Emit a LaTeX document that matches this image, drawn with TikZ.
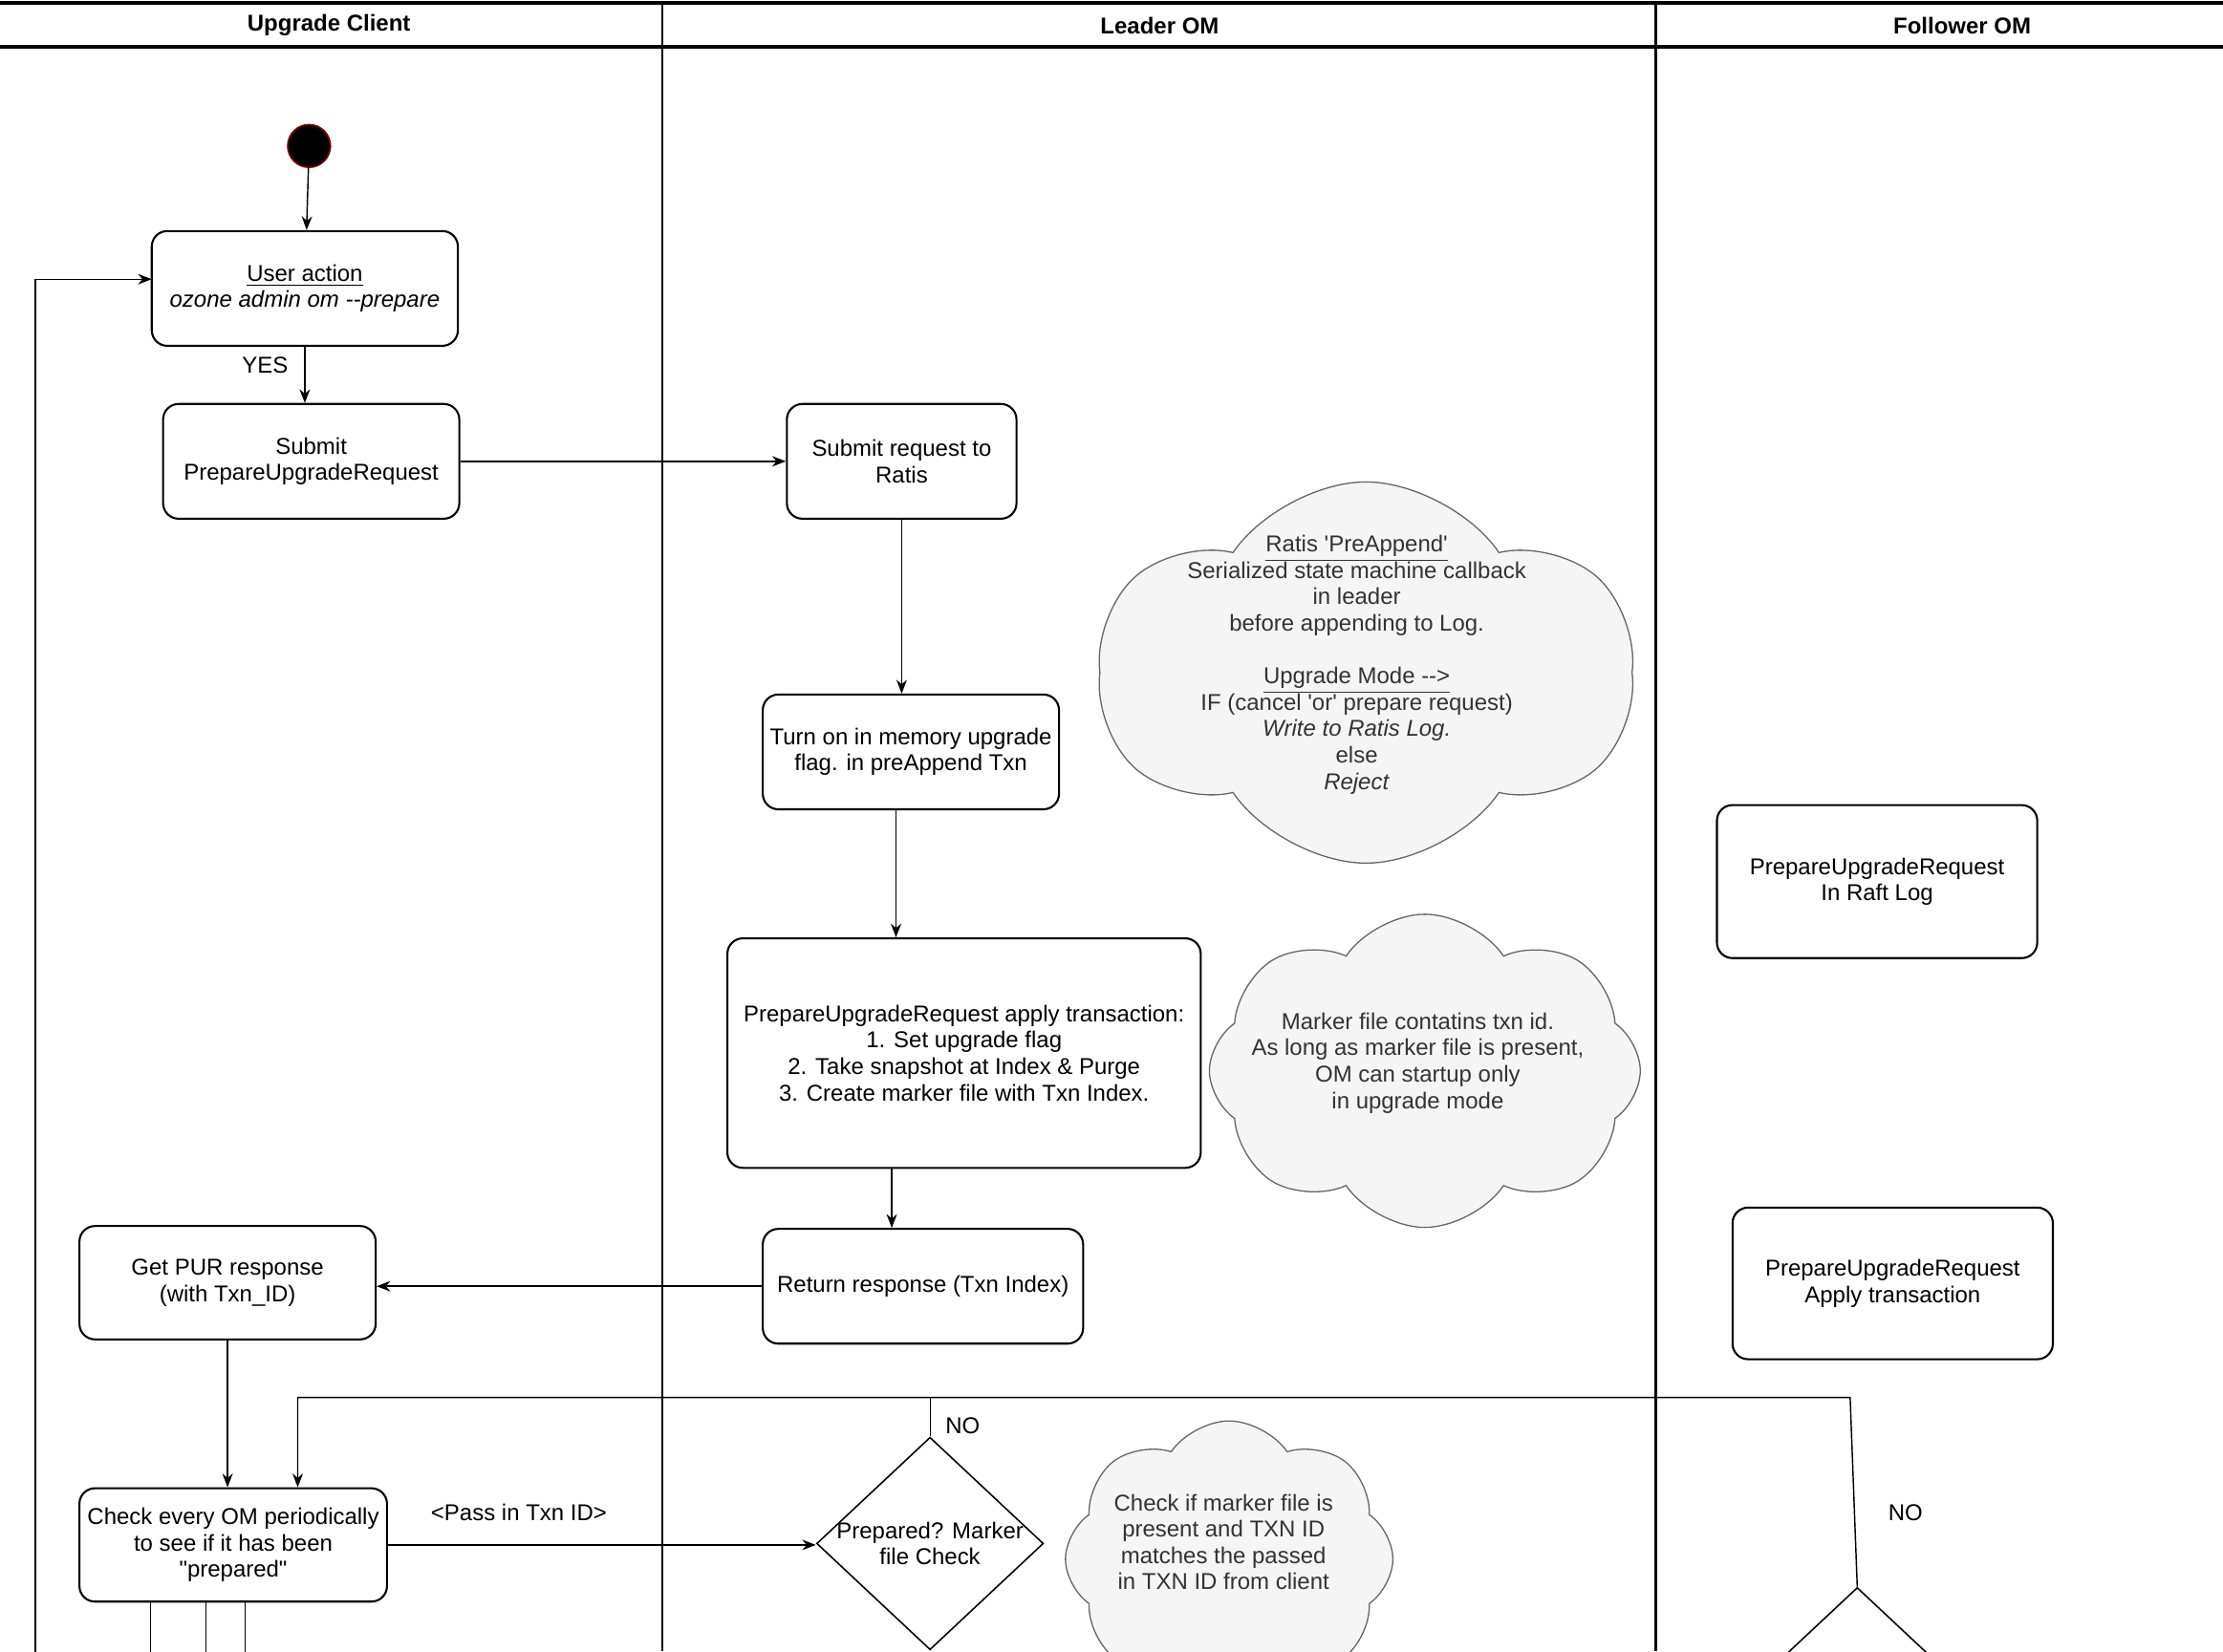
\documentclass[tikz,border=0pt]{standalone}
\usepackage{fontspec}
\setmainfont{Liberation Sans}
\usepackage{tikz}
\usepackage{xcolor}
\usetikzlibrary{calc,shapes.geometric,shapes.symbols,arrows.meta,positioning}

\definecolor{notefill}{HTML}{F5F5F5}
\definecolor{noteline}{HTML}{666666}
\definecolor{notetext}{HTML}{333333}

\tikzset{
  action/.style={ % rounded activity box
    draw, rectangle, rounded corners=0.22cm, line width=0.8pt,
    align=center, inner sep=2pt, text=black
  },
  decision/.style={ % empty decision diamond, text is put on top
    draw, diamond, line width=0.6pt, inner sep=0pt,
    minimum width=3.2cm, minimum height=3cm
  },
  note/.style={ % grey cloud behind a comment
    draw=noteline, fill=notefill, cloud, cloud puffs=8,
    cloud puff arc=112, cloud ignores aspect,
    line width=0.5pt, inner sep=0pt
  },
  notetxt/.style={align=center, text=notetext},
  startnode/.style={ % initial state
    circle, fill=black, draw=red!45!black, line width=0.7pt,
    minimum size=0.6cm, inner sep=0pt
  },
  flow/.style={-{Stealth[length=5.5pt,width=4.2pt]}, line width=0.55pt},
  lane/.style={line width=0.9pt},
  headline/.style={line width=1.2pt},
  lanehead/.style={font=\fontsize{9.2}{10.6}\selectfont\bfseries}
}

\begin{document}
\begin{tikzpicture}[x=0.02cm, y=-0.02cm, font=\fontsize{9.2}{10.6}\selectfont]
  \useasboundingbox (0,0) rectangle (1568,1165);

  % swimlanes
  \draw[headline] (0,2) -- (1568,2);
  \draw[headline] (0,33) -- (1568,33);
  \draw[lane] (467,2) -- (467,1165);
  \draw[lane] (1168,2) -- (1168,1165);
  \node[lanehead] (client_head) at (232,18) {Upgrade Client};
  \node[lanehead] (leader_head) at (818,18) {Leader OM};
  \node[lanehead] (follower_head) at (1384,18) {Follower OM};

  % upgrade client
  \node[startnode] (start) at (218,103) {};
  \node[action, minimum width=4.32cm, minimum height=1.62cm] (user) at (215,203.5)
    {\underline{User action}\\\textit{ozone admin om -{}-prepare}};
  \node[action, minimum width=4.18cm, minimum height=1.62cm] (submit) at (219.5,325.5)
    {Submit\\PrepareUpgradeRequest};
  \node[action, minimum width=4.18cm, minimum height=1.6cm] (getpur) at (160.5,905)
    {Get PUR response\\(with Txn\_ID)};
  \node[action, minimum width=4.34cm, minimum height=1.6cm] (check) at (164.5,1090)
    {Check every OM periodically\\to see if it has been\\\textquotedbl prepared\textquotedbl};

  % leader OM
  \node[action, minimum width=3.24cm, minimum height=1.62cm] (ratis) at (636,325.5)
    {Submit request to\\Ratis};
  \node[action, minimum width=4.18cm, minimum height=1.62cm] (turnon) at (642.5,530.5)
    {Turn on in memory upgrade\\flag. in preAppend Txn};
  \node[action, minimum width=6.68cm, minimum height=3.24cm] (apply) at (680,743)
    {PrepareUpgradeRequest apply transaction:\\1. Set upgrade flag\\2. Take snapshot at Index \& Purge\\3. Create marker file with Txn Index.};
  \node[action, minimum width=4.52cm, minimum height=1.62cm] (ret) at (651,907.5)
    {Return response (Txn Index)};
  \node[decision] (prep) at (656,1089) {};
  \node[align=center] (prep_text) at (prep.center) {Prepared? Marker\\file Check};

  % comments
  \node[note, cloud puffs=6, minimum width=7.54cm, minimum height=5.38cm] (preappend) at (963.5,474.5) {};
  \node[notetxt] (preappend_text) at (957,469)
    {\underline{Ratis \textquotesingle PreAppend\textquotesingle}\\Serialized state machine callback\\in leader\\before appending to Log.\\[10.6pt]
     \underline{Upgrade Mode -{}->}\\IF (cancel \textquotesingle or\textquotesingle{} prepare request)\\\textit{Write to Ratis Log.}\\else\\\textit{Reject}};
  \node[note, minimum width=6.08cm, minimum height=4.42cm] (marker) at (1005,755.5) {};
  \node[notetxt] (marker_text) at (1000,750)
    {Marker file contatins txn id.\\As long as marker file is present,\\OM can startup only\\in upgrade mode};
  \node[note, minimum width=4.62cm, minimum height=3.9cm] (markercheck) at (867,1100) {};
  \node[notetxt] (markercheck_text) at (863,1088)
    {Check if marker file is\\present and TXN ID\\matches the passed\\in TXN ID from client};

  % follower OM
  \node[action, minimum width=4.52cm, minimum height=2.16cm] (raft) at (1324,622)
    {PrepareUpgradeRequest\\In Raft Log};
  \node[action, minimum width=4.52cm, minimum height=2.14cm] (fapply) at (1335,905.5)
    {PrepareUpgradeRequest\\Apply transaction};
  \node[decision] (fprep) at (1310,1195) {};

  % connectors
  \draw[flow] (start) -- (user);
  \draw[flow] (user) -- (submit.north -| user.south);
  \node (yes) at (187,258) {YES};
  \draw[flow] (submit) -- (submit -| ratis.west);
  \draw[flow] (ratis.south) -- (ratis.south |- turnon.north);
  \draw[flow] (turnon.south -| 632,0) -- (apply.north -| 632,0);
  \draw[flow] (apply.south -| 629,0) -- (ret.north -| 629,0);
  \draw[flow] (ret.west) -- (ret.west -| getpur.east);
  \draw[flow] (getpur.south) -- (getpur.south |- check.north);
  \draw[flow] (check.east) -- (check.east -| prep.west);
  \node (pass) at (366,1067) {<Pass in Txn ID>};

  % loop back while not prepared
  \coordinate (backtop) at (210,986);
  \coordinate (fcorner) at (1305,986);
  \draw[flow] (fprep.north) -- (fcorner) -- (backtop) -- (backtop |- check.north);
  \draw (prep.north) -- (prep.north |- backtop);
  \node (no_leader) at (679,1006) {NO};
  \node (no_follower) at (1344,1067) {NO};

  % return to the user action
  \coordinate (loopin) at (25,1170);
  \draw[flow] (loopin) |- (107,197);

  % lines leaving the check box
  \coordinate (outa) at (106,1170);
  \coordinate (outb) at (145,1170);
  \coordinate (outc) at (173,1170);
  \draw (check.south -| outa) -- (outa);
  \draw (check.south -| outb) -- (outb);
  \draw (check.south -| outc) -- (outc);
\end{tikzpicture}
\end{document}
